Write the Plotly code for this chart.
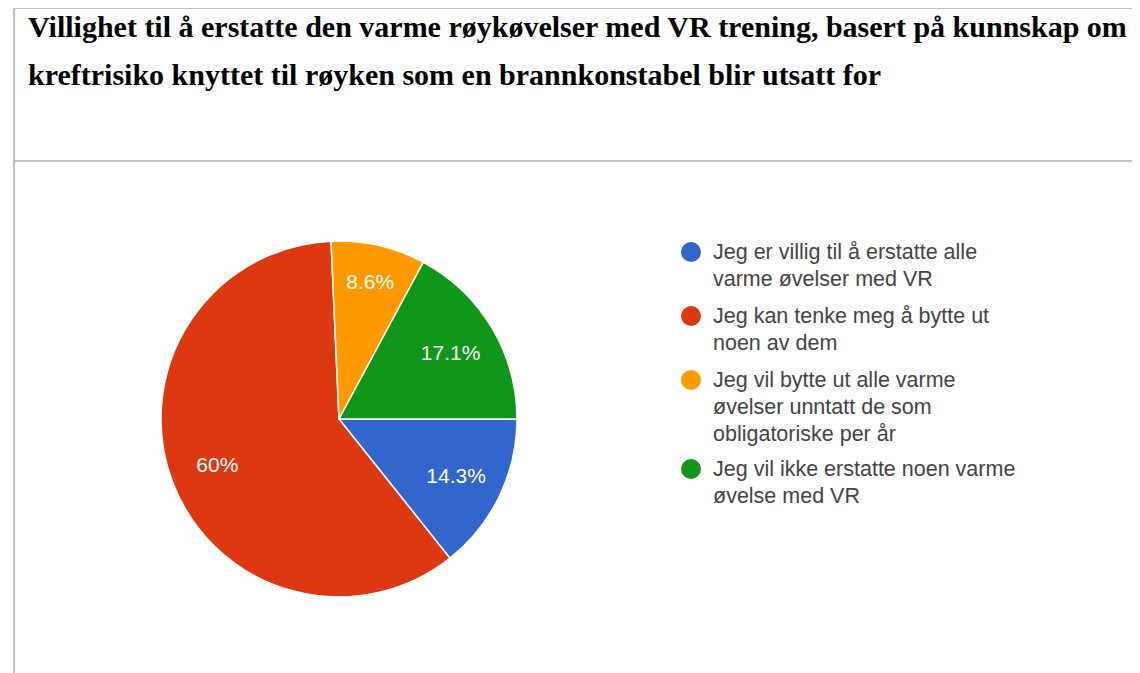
import plotly.graph_objects as go

W, H = 1132, 665
OFF = 8  # page body margin

title_lines = [
    "Villighet til å erstatte den varme røykøvelser med VR trening, basert på kunnskap om",
    "kreftrisiko knyttet til røyken som en brannkonstabel blir utsatt for",
]
categories = [
    "Jeg er villig til å erstatte alle varme øvelser med VR",
    "Jeg kan tenke meg å bytte ut noen av dem",
    "Jeg vil bytte ut alle varme øvelser unntatt de som obligatoriske per år",
    "Jeg vil ikke erstatte noen varme øvelse med VR",
]
legend_lines = [
    ["Jeg er villig til å erstatte alle", "varme øvelser med VR"],
    ["Jeg kan tenke meg å bytte ut", "noen av dem"],
    ["Jeg vil bytte ut alle varme", "øvelser unntatt de som", "obligatoriske per år"],
    ["Jeg vil ikke erstatte noen varme", "øvelse med VR"],
]
values = [5, 21, 3, 6]
colors = ["#3366cc", "#dc3912", "#ff9900", "#109618"]

total = sum(values)
texts = [f"{round(v / total * 100, 1):g}%" for v in values]

def px(x):
    return (x - OFF) / W

def py(y):
    return 1 - (y - OFF) / H

cx, cy, r = 339, 419, 178
dom = dict(x=[px(cx - r), px(cx + r)], y=[py(cy + r), py(cy - r)])

fig = go.Figure()
fig.add_trace(go.Pie(
    labels=categories,
    values=values,
    textinfo="none",
    marker=dict(colors=colors, line=dict(color="white", width=1.5)),
    sort=False,
    direction="clockwise",
    rotation=90,
    showlegend=False,
    hoverinfo="label+percent",
    domain=dom,
))
# label layer: transparent ring so labels sit at ~0.73 of the radius
fig.add_trace(go.Pie(
    labels=categories,
    values=values,
    text=texts,
    textinfo="text",
    textposition="inside",
    insidetextorientation="horizontal",
    textfont=dict(family="Liberation Sans, Arial", size=21, color="white"),
    marker=dict(colors=["rgba(0,0,0,0)"] * len(values), line=dict(width=0)),
    hole=0.46,
    sort=False,
    direction="clockwise",
    rotation=90,
    showlegend=False,
    hoverinfo="skip",
    domain=dom,
))

shapes = []
grey = "#c0c0c0"
shapes.append(dict(type="line", xref="paper", yref="paper", x0=px(13), x1=px(1140), y0=py(8), y1=py(8),
                   line=dict(color=grey, width=2)))
shapes.append(dict(type="line", xref="paper", yref="paper", x0=px(13), x1=px(1140), y0=py(161), y1=py(161),
                   line=dict(color=grey, width=2)))
shapes.append(dict(type="line", xref="paper", yref="paper", x0=px(14), x1=px(14), y0=py(8), y1=py(673),
                   line=dict(color=grey, width=2)))

annotations = []
for i, line in enumerate(title_lines):
    annotations.append(dict(text=f"<b>{line}</b>", xref="paper", yref="paper", x=px(26), y=py(26 + i * 48),
                            xanchor="left", yanchor="middle", showarrow=False,
                            font=dict(family="Liberation Serif, Times New Roman", size=30, color="black")))

entry_y = [252, 316, 380, 469]
line_h = 27
for i, lines in enumerate(legend_lines):
    y0 = entry_y[i]
    shapes.append(dict(type="circle", xref="paper", yref="paper",
                       x0=px(691 - 10), x1=px(691 + 10), y0=py(y0 + 10), y1=py(y0 - 10),
                       fillcolor=colors[i], line=dict(width=0)))
    for j, t in enumerate(lines):
        annotations.append(dict(text=t, xref="paper", yref="paper", x=px(711), y=py(y0 + j * line_h),
                                xanchor="left", yanchor="middle", showarrow=False,
                                font=dict(family="Liberation Sans, Arial", size=21.5, color="#444444")))

fig.update_layout(
    width=W, height=H,
    margin=dict(l=0, r=0, t=0, b=0),
    paper_bgcolor="white", plot_bgcolor="white",
    shapes=shapes, annotations=annotations,
)
fig.write_html("out.html")
